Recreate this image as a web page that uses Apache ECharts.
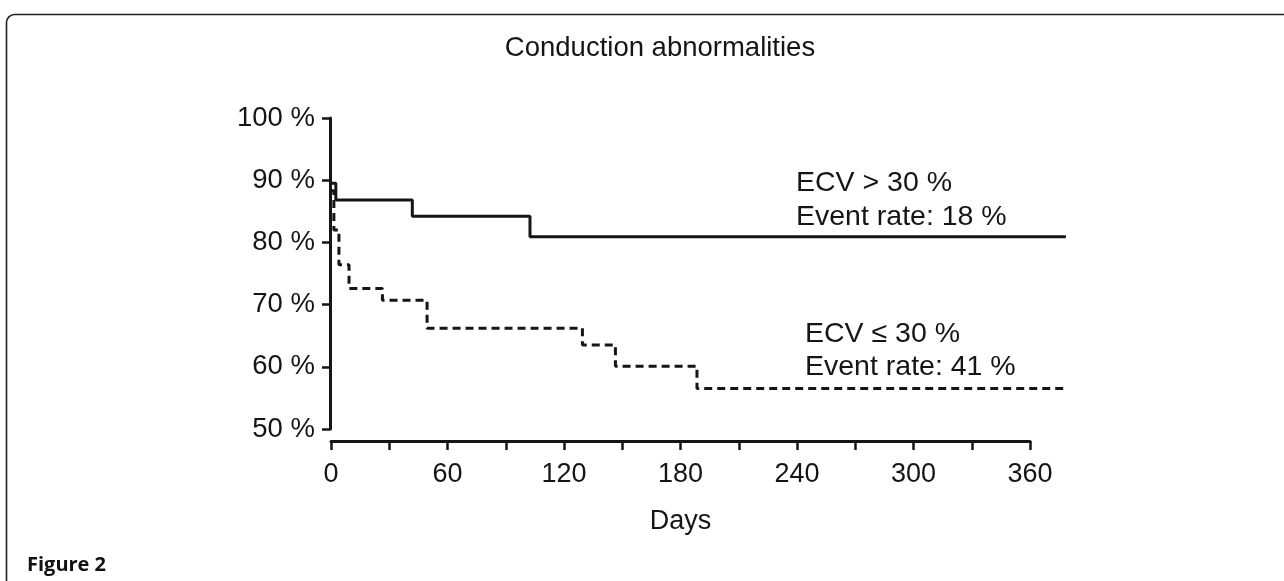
<!DOCTYPE html>
<html>
<head>
<meta charset="utf-8">
<title>Conduction abnormalities</title>
<script src="https://cdn.jsdelivr.net/npm/echarts@6/dist/echarts.min.js"></script>
<style>
    html, body { margin: 0; padding: 0; background: #fff; }
    #chart { width: 1284px; height: 581px; }
</style>
</head>
<body>
<div id="chart"></div>
<script>
// Kaplan-Meier steps: [day, % free of event]
var ecvHigh = [[0, 89.5], [3, 86.8], [42.4, 84.2], [103, 80.9], [379, 80.9]];
var ecvLow = [[0, 88.3], [2, 82], [4.6, 76.4], [9.8, 72.6], [27, 70.7], [50, 66.2], [130, 63.5], [147, 60.1], [189, 56.5], [379, 56.5]];
var dayTicks = [0, 60, 120, 180, 240, 300, 360];
var yTicks = [50, 60, 70, 80, 90, 100];
var notes = ['ECV > 30 %', 'Event rate: 18 %', 'ECV \u2264 30 %', 'Event rate: 41 %'];

var font = '"Liberation Sans", Arial, Helvetica, sans-serif';
var ink = '#151515';

var myChart = echarts.init(document.getElementById('chart'), null, {renderer: 'canvas'});

var option = {
    backgroundColor: '#fff',
    animation: false,
    title: {
        text: 'Conduction abnormalities',
        left: 655,
        top: 29,
        textAlign: 'center',
        textStyle: {fontFamily: font, fontSize: 27.5, fontWeight: 'normal', color: ink}
    },
    grid: [
        // grid 0 holds the curves (they run past day 360)
        {left: 330, top: 118, width: 380 * 699 / 360, height: 311},
        // grid 1 only draws the detached day axis 0..360
        {left: 331, top: 118, width: 699, height: 311}
    ],
    xAxis: [
        {
            gridIndex: 0, type: 'value', min: 0, max: 380,
            show: false
        },
        {
            gridIndex: 1, type: 'value', min: 0, max: 360, interval: 30,
            offset: 12,
            axisLine: {show: true, onZero: false, lineStyle: {color: ink, width: 3}},
            axisTick: {show: true, inside: false, length: 9, lineStyle: {color: ink, width: 2.5}},
            splitLine: {show: false},
            axisLabel: {
                margin: 20,
                fontFamily: font, fontSize: 27, color: ink,
                formatter: function (v) {
                    return dayTicks.indexOf(v) >= 0 ? String(v) : '';
                }
            },
            name: 'Days',
            nameLocation: 'middle',
            nameGap: 67,
            nameTextStyle: {fontFamily: font, fontSize: 27, color: ink}
        }
    ],
    yAxis: [
        {
            gridIndex: 0, type: 'value', min: yTicks[0], max: yTicks[yTicks.length - 1], interval: 10,
            axisLine: {show: true, lineStyle: {color: ink, width: 3}},
            axisTick: {show: true, length: 8, lineStyle: {color: ink, width: 2.5}},
            splitLine: {show: false},
            axisLabel: {
                margin: 15,
                fontFamily: font, fontSize: 27.5, color: ink,
                formatter: '{value} %'
            }
        },
        {gridIndex: 1, type: 'value', min: 50, max: 100, show: false}
    ],
    series: [
        {
            name: 'ECV > 30 %',
            type: 'line',
            step: 'end',
            xAxisIndex: 0, yAxisIndex: 0,
            data: ecvHigh,
            showSymbol: false,
            lineStyle: {color: ink, width: 3, type: 'solid'}
        },
        {
            name: 'ECV \u2264 30 %',
            type: 'line',
            step: 'end',
            xAxisIndex: 0, yAxisIndex: 0,
            data: ecvLow,
            showSymbol: false,
            lineStyle: {color: ink, width: 3, type: [8, 5]}
        }
    ],
    graphic: [
        // panel frame, runs off the right and bottom edges
        {
            type: 'rect', left: 4, top: 12, silent: true,
            shape: {x: 0, y: 0, width: 1400, height: 700, r: 8},
            style: {fill: null, stroke: '#222', lineWidth: 1.6}
        },
        {type: 'text', x: 796, y: 183, style: {text: notes[0], font: '28.5px ' + font, fill: ink, verticalAlign: 'middle'}},
        {type: 'text', x: 796, y: 217, style: {text: notes[1], font: '28.5px ' + font, fill: ink, verticalAlign: 'middle'}},
        {type: 'text', x: 805, y: 334, style: {text: notes[2], font: '28.5px ' + font, fill: ink, verticalAlign: 'middle'}},
        {type: 'text', x: 805, y: 367, style: {text: notes[3], font: '28.5px ' + font, fill: ink, verticalAlign: 'middle'}},
        {type: 'text', x: 27, y: 565, style: {text: 'Figure 2', font: 'bold 20px "Open Sans", "Noto Sans", sans-serif', fill: '#111', verticalAlign: 'middle'}}
    ]
};

myChart.setOption(option);
window.onresize = myChart.resize;
</script>
</body>
</html>
